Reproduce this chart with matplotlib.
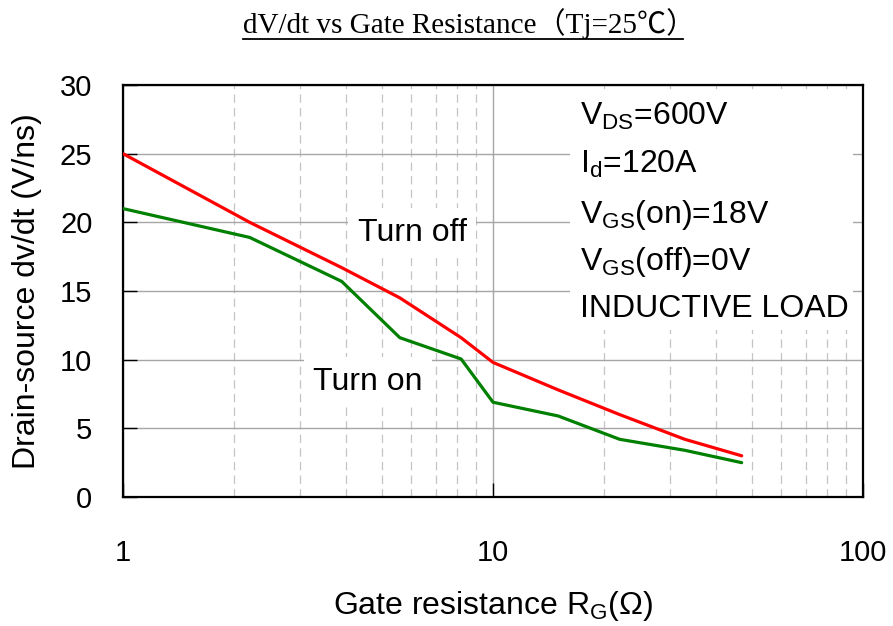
import matplotlib
matplotlib.use("Agg")
import matplotlib.pyplot as plt
from matplotlib.patches import Rectangle
from matplotlib.ticker import FixedLocator, NullFormatter
from matplotlib.lines import Line2D

plt.rcParams['font.family'] = ['Liberation Sans', 'DejaVu Sans']
plt.rcParams['mathtext.fontset'] = 'custom'
plt.rcParams['mathtext.rm'] = 'Liberation Sans'
plt.rcParams['lines.scale_dashes'] = False

rg = [1, 2.2, 3.9, 5.6, 8.2, 10, 15, 22, 33, 47]
turn_off = [25, 20, 16.7, 14.5, 11.6, 9.8, 7.8, 6.0, 4.2, 3.0]
turn_on = [21, 18.9, 15.7, 11.6, 10.05, 6.9, 5.9, 4.2, 3.4, 2.5]
x_ticks = [1, 10, 100]
x_ticklabels = ["1", "10", "100"]
y_ticks = [0, 5, 10, 15, 20, 25, 30]
conditions = [r"V$_\mathregular{DS}$=600V", r"I$_\mathregular{d}$=120A",
              r"V$_\mathregular{GS}$(on)=18V", r"V$_\mathregular{GS}$(off)=0V",
              "INDUCTIVE LOAD"]

W, H = 893, 626
L, R, T, B = 123, 863, 85, 497


def ax_x(px):
    return (px - L) / (R - L)


def ax_y(py):
    return (B - py) / (B - T)


fig = plt.figure(figsize=(W / 100, H / 100), dpi=100)
ax = fig.add_axes([L / W, 1 - B / H, (R - L) / W, (B - T) / H])
ax.set_xscale('log')
ax.set_xlim(1, 100)
ax.set_ylim(0, 30)

ax.set_axisbelow(True)
ax.xaxis.set_major_locator(FixedLocator(x_ticks))
minors = [m * d for d in (1, 10) for m in range(2, 10)]
ax.xaxis.set_minor_locator(FixedLocator(minors))
ax.xaxis.set_minor_formatter(NullFormatter())
ax.set_xticklabels(x_ticklabels)
ax.set_yticks(y_ticks)
ax.grid(True, which='major', axis='both', color='#a6a6a6', linewidth=1.0, linestyle='-')
ax.grid(True, which='minor', axis='x', color='#c4c4c4', linewidth=0.9, linestyle=(0, (6, 3.8)))

ax.tick_params(axis='both', which='major', direction='in', length=10, width=1,
               labelsize=21, colors='black')
ax.tick_params(axis='x', which='major', pad=30)
ax.tick_params(axis='y', which='major', pad=22)
ax.tick_params(axis='x', which='minor', length=0)
for s in ax.spines.values():
    s.set_linewidth(1.6)
    s.set_color('black')

# white background behind the condition block
ax.add_patch(Rectangle((ax_x(570), ax_y(330)), ax_x(853) - ax_x(570), ax_y(90) - ax_y(330),
                       transform=ax.transAxes, facecolor='white', edgecolor='none', zorder=1.5))

ax.plot(rg, turn_off, color='#ff0000', linewidth=2.3, zorder=3, solid_capstyle='round')
ax.plot(rg, turn_on, color='#008000', linewidth=2.3, zorder=3, solid_capstyle='round')

ax.text(ax_x(412), ax_y(241), "Turn off", transform=ax.transAxes, fontsize=23,
        ha='center', va='baseline', zorder=2,
        bbox=dict(facecolor='white', edgecolor='none', pad=7))
ax.text(ax_x(368), ax_y(390), "Turn on", transform=ax.transAxes, fontsize=23,
        ha='center', va='baseline', zorder=2,
        bbox=dict(facecolor='white', edgecolor='none', pad=7))

baselines = [125, 173, 223, 270, 317]
for t, yp in zip(conditions, baselines):
    ax.text(ax_x(580), ax_y(yp), t, transform=ax.transAxes, fontsize=23,
            ha='left', va='baseline', zorder=2)

fig.text(27 / W, 1 - 291 / H, "Drain-source dv/dt (V/ns)", rotation=90,
         fontsize=23, ha='center', va='center')
fig.text(493 / W, 1 - 606 / H, r"Gate resistance R$_\mathregular{G}$(Ω)",
         fontsize=23, ha='center', va='center')

# title with underline
fig.text(243 / W, 1 - 33 / H, "dV/dt vs Gate Resistance（Tj=25℃）",
         ha='left', va='baseline', fontsize=21,
         family=['Liberation Serif', 'Noto Sans CJK SC'])
fig.add_artist(Line2D([243 / W, 683 / W], [1 - 39 / H, 1 - 39 / H], color='black',
                      linewidth=1.3, transform=fig.transFigure))

fig.savefig("out.png", dpi=100)
